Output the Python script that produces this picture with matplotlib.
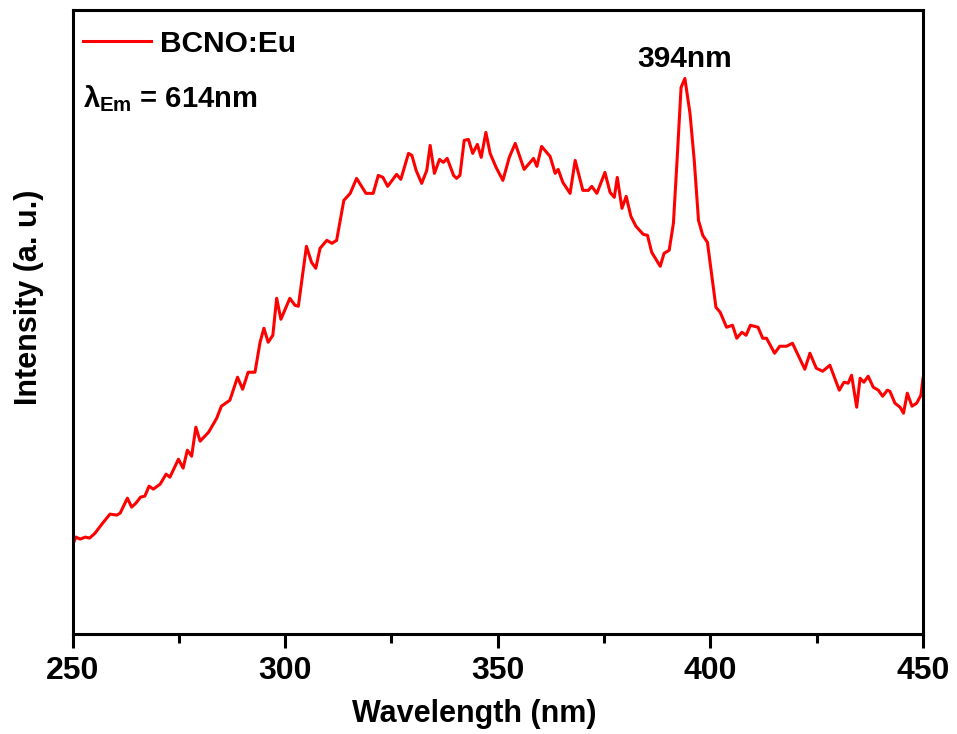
import matplotlib
matplotlib.use("Agg")
import matplotlib.pyplot as plt
from matplotlib.ticker import MultipleLocator, NullLocator

plt.rcParams['font.family'] = ['Liberation Sans', 'DejaVu Sans']
plt.rcParams['font.weight'] = 'bold'
plt.rcParams['mathtext.fontset'] = 'custom'
plt.rcParams['mathtext.rm'] = 'Liberation Sans:bold'
plt.rcParams['mathtext.it'] = 'Liberation Sans'
plt.rcParams['mathtext.bf'] = 'Liberation Sans:bold'

# excitation spectrum, monitored at 614 nm
wavelength = [
    250.0, 250.8, 251.8, 253.0, 254.0, 255.3, 256.9, 258.8, 260.4, 261.2,
    262.9, 263.9, 264.9, 266.0, 267.0, 268.0, 269.0, 270.6, 272.0, 272.9,
    274.9, 276.0, 277.0, 278.0, 279.0, 280.0, 282.0, 283.9, 285.0, 287.0,
    288.8, 290.0, 291.3, 292.9, 294.1, 295.0, 296.0, 297.1, 298.0, 299.0,
    301.1, 302.3, 303.1, 305.0, 306.2, 307.2, 308.2, 309.8, 311.0, 312.1,
    313.8, 315.3, 316.8, 319.0, 320.7, 321.9, 323.0, 324.1, 326.2, 327.2,
    329.0, 329.8, 330.8, 332.1, 333.3, 334.1, 335.1, 336.3, 337.2, 338.1,
    339.6, 340.3, 341.1, 342.1, 343.1, 344.1, 345.2, 346.1, 347.2, 348.2,
    349.6, 351.2, 352.7, 354.1, 356.2, 358.4, 359.2, 360.3, 362.3, 363.5,
    364.2, 365.3, 367.0, 368.2, 370.0, 371.3, 372.1, 373.3, 375.2, 376.4,
    377.4, 378.1, 379.2, 380.2, 381.3, 382.5, 384.2, 385.2, 386.2, 388.2,
    389.1, 390.3, 391.3, 392.2, 393.1, 394.0, 395.2, 396.2, 397.2, 398.2,
    399.3, 401.3, 402.3, 403.8, 405.2, 406.2, 407.4, 408.4, 409.4, 411.2,
    412.3, 413.2, 415.1, 416.3, 417.9, 419.3, 422.2, 423.4, 424.9, 426.4,
    428.1, 430.3, 431.4, 432.4, 433.2, 434.4, 435.2, 436.1, 437.1, 438.3,
    439.5, 440.5, 441.6, 442.2, 443.4, 444.6, 445.4, 446.3, 447.4, 448.5,
    449.5, 450.0,
]
intensity = [
    89, 97, 95, 97, 96, 101, 110, 120, 119, 121,
    136, 127, 131, 137, 138, 148, 145, 150, 160, 157,
    175, 166, 184, 178, 207, 193, 202, 216, 228, 234,
    257, 245, 262, 262, 292, 306, 292, 299, 336, 315,
    336, 329, 328, 388, 372, 366, 386, 394, 391, 394,
    434, 441, 456, 441, 441, 459, 457, 448, 460, 455,
    481, 479, 464, 451, 464, 489, 461, 475, 472, 476,
    459, 456, 459, 494, 495, 481, 490, 477, 502, 481,
    467, 454, 477, 491, 465, 476, 468, 488, 478, 461,
    465, 452, 441, 474, 444, 444, 448, 441, 462, 442,
    437, 457, 426, 438, 418, 408, 400, 399, 382, 368,
    381, 384, 411, 477, 547, 556, 521, 474, 414, 399,
    392, 327, 322, 307, 309, 296, 302, 299, 309, 307,
    296, 296, 281, 288, 288, 291, 265, 281, 266, 263,
    269, 244, 252, 251, 259, 227, 256, 252, 258, 247,
    244, 238, 244, 243, 231, 227, 221, 241, 228, 231,
    239, 256,
]

peak_wl = 394.0
peak_val = intensity[wavelength.index(peak_wl)]

fig = plt.figure(figsize=(9.57, 7.34), dpi=100)
ax = fig.add_axes([0.0758, 0.1362, 0.8887, 0.8495])

ax.plot(wavelength, intensity, color='#ff0000', lw=2.2, label='BCNO:Eu')

ax.set_xlim(250, 450)
ax.set_ylim(0, 624)

ax.xaxis.set_major_locator(MultipleLocator(50))
ax.xaxis.set_minor_locator(MultipleLocator(25))
ax.yaxis.set_major_locator(NullLocator())

for s in ax.spines.values():
    s.set_linewidth(2.2)

ax.tick_params(axis='x', which='major', direction='out', length=10, width=2.2,
               labelsize=23, pad=6)
ax.tick_params(axis='x', which='minor', direction='out', length=6.5, width=2.2)
for lab in ax.get_xticklabels():
    lab.set_fontweight('bold')

ax.set_xlabel('Wavelength (nm)', fontsize=22, fontweight='bold')
ax.xaxis.set_label_coords(0.472, -0.104)
ax.set_ylabel('Intensity (a. u.)', fontsize=22, fontweight='bold')
ax.yaxis.set_label_coords(-0.034, 0.54)

ax.legend(loc='upper left', bbox_to_anchor=(-0.009, 0.998), frameon=False,
          handlelength=2.3, handletextpad=0.3,
          borderaxespad=0.4, borderpad=0.2, prop={'weight': 'bold', 'size': 21.5})

ax.text(0.012, 0.845, r'$\lambda_{\mathregular{Em}}$ = 614nm', transform=ax.transAxes,
        fontsize=21, fontweight='bold', ha='left', va='baseline')

ax.annotate('394nm', xy=(peak_wl, peak_val), xytext=(0, 8),
            textcoords='offset points', ha='center', va='baseline',
            fontsize=21.5, fontweight='bold')

fig.savefig('out.png', dpi=100)
